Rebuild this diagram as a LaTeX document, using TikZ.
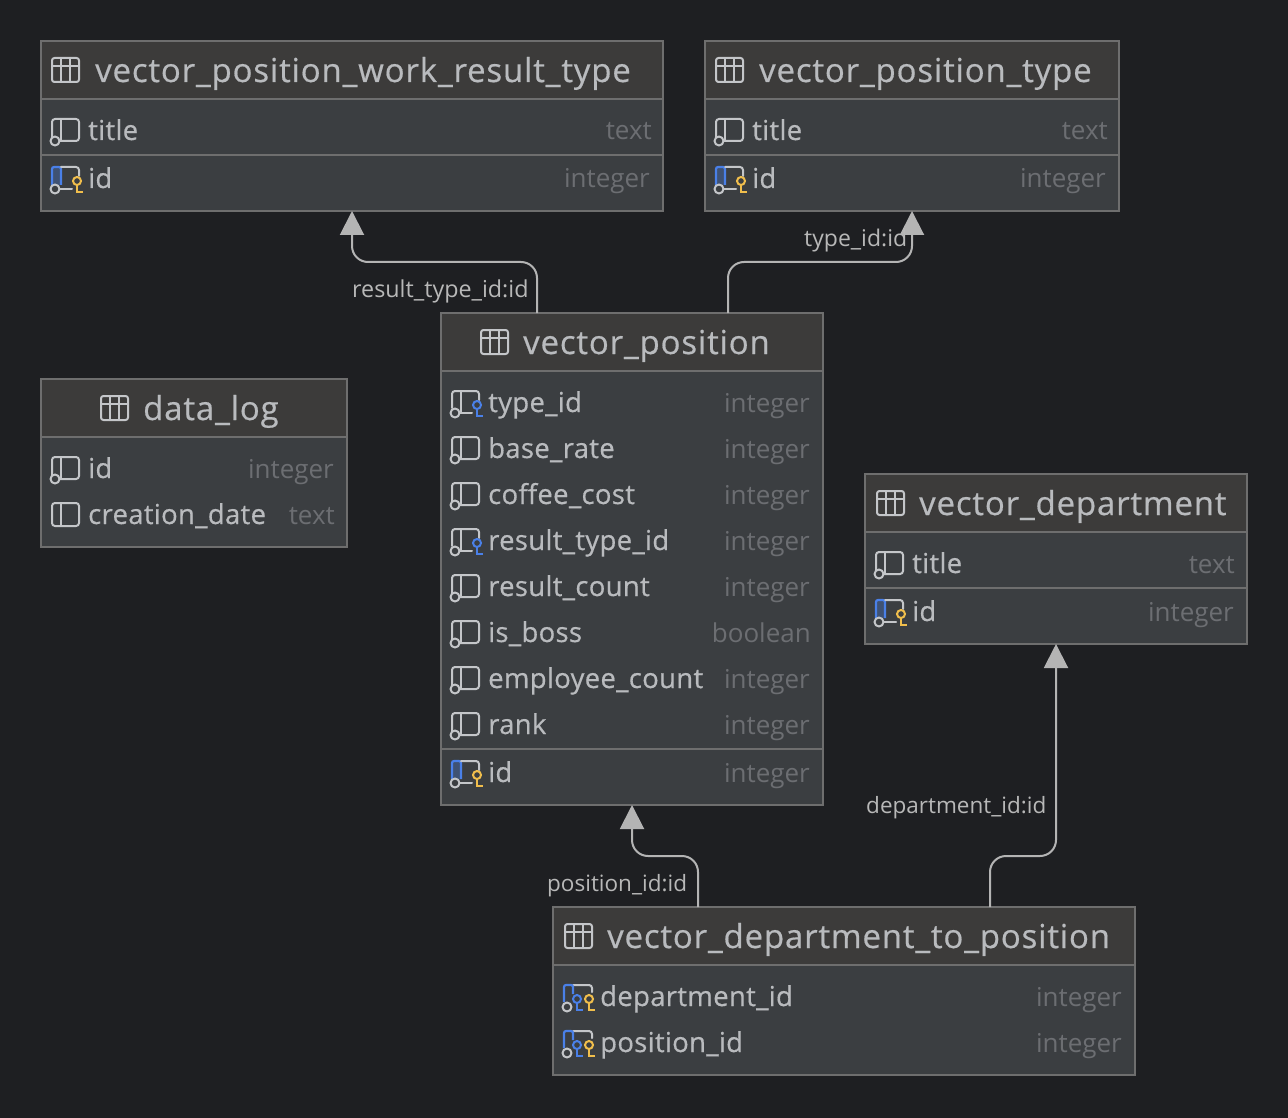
\documentclass[tikz,border=0pt]{standalone}
\usepackage{fontspec}
\setmainfont{Open Sans}
\newfontfamily\titlefont[LetterSpace=2.5,FakeBold=0.5]{Open Sans}
\newfontfamily\rowfont[LetterSpace=1.1,FakeBold=0.5]{Open Sans}
\usetikzlibrary{arrows.meta}
\definecolor{bgc}{HTML}{1E1F22}
\definecolor{headc}{HTML}{3C3B3A}
\definecolor{bodyc}{HTML}{3B3E41}
\definecolor{edgec}{HTML}{6E6E6E}
\definecolor{txtc}{HTML}{B9BBBE}
\definecolor{typec}{HTML}{6C6E72}
\definecolor{iconc}{HTML}{C4C6C9}
\definecolor{linkc}{HTML}{B4B4B4}
\definecolor{bluec}{HTML}{4A80E8}
\definecolor{yelc}{HTML}{F0BE4C}
\tikzset{
 x=1pt,y=-1pt,
 tablebox/.style={draw=edgec,line width=1.5pt,fill=bodyc,anchor=north west,inner sep=0pt,outer sep=0pt},
 headbox/.style={draw=edgec,line width=1.5pt,fill=headc,anchor=north west,inner sep=0pt,outer sep=0pt},
 rule/.style={draw=edgec,line width=2pt},
 titletxt/.style={anchor=base west,inner sep=0pt,text=txtc,font=\titlefont\fontsize{33}{36}\selectfont},
 rowtxt/.style={anchor=base west,inner sep=0pt,text=txtc,font=\rowfont\fontsize{27.5}{30}\selectfont},
 typetxt/.style={anchor=base east,inner sep=0pt,text=typec,font=\fontsize{26}{30}\selectfont},
 linktxt/.style={inner sep=0pt,text=linkc!95!white},
 conn/.style={draw=linkc,line width=2pt,rounded corners=16pt,-{Triangle[width=24pt,length=24pt,fill=linkc]}},
 ic/.style={draw=iconc,line width=2pt,line cap=round,line join=round},
 pics/tableicon/.style={code={
   \draw[ic,rounded corners=2.5pt] (0,0) rectangle (27,24);
   \draw[ic] (0,8) -- (27,8) (9,0) -- (9,24) (18,0) -- (18,24);
 }},
 pics/plainicon/.style={code={
   \draw[ic,rounded corners=3pt] (0,0) rectangle (27,23);
   \draw[ic] (9,0) -- (9,23);
 }},
 pics/colicon/.style={code={
   \draw[ic,rounded corners=3pt] (0,18) -- (0,0) -- (27,0) -- (27,22) -- (8,22);
   \draw[ic] (9,0) -- (9,22);
   \draw[ic] (3,22) circle (4.5);
 }},
 pics/yelkey/.style={code={
   \draw[yelc,line width=2pt] (0,0) circle (4);
   \draw[yelc,line width=2.2pt] (0,4) -- (0,12) (0,11) -- (5.5,11);
 }},
 pics/blukey/.style={code={
   \draw[bluec,line width=2pt] (0,0) circle (4);
   \draw[bluec,line width=2.2pt] (0,4) -- (0,12) (0,11) -- (5.5,11);
 }},
 pics/pkicon/.style={code={
   \fill[bluec!30!bodyc] (0,0) rectangle (9,18);
   \draw[bluec,line width=2.2pt,rounded corners=2pt] (0,18) -- (0,0) -- (9,0) -- (9,18);
   \draw[ic,rounded corners=3pt] (9,0) -- (27,0) -- (27,9);
   \draw[ic] (8,22) -- (20,22);
   \draw[ic] (3,22) circle (4.5);
   \pic at (25,14) {yelkey};
 }},
 pics/fkicon/.style={code={
   \draw[ic,rounded corners=3pt] (0,17) -- (0,0) -- (27,0) -- (27,9);
   \draw[ic] (9,0) -- (9,22) (8,22) -- (20,22);
   \draw[ic] (3,22) circle (4.5);
   \pic at (25,14) {blukey};
 }},
 pics/pfkicon/.style={code={
   \draw[ic,rounded corners=3pt] (9,0) -- (28,0) -- (28,7);
   \draw[bluec,line width=2.2pt,rounded corners=2pt] (0,17) -- (0,0) -- (9,0) -- (9,9);
   \draw[ic] (3,22) circle (4.5);
   \pic at (13,14) {blukey};
   \pic at (25,14) {yelkey};
 }},
}
% name, x0, y0, x1, y1, header bottom y
\newcommand{\dbtable}[6]{%
 \path (#2,#3) coordinate (#1-nw);
 \path (#4,#5) coordinate (#1-se);
 \node[tablebox,minimum width=#4pt-#2pt,minimum height=#5pt-#3pt] (#1) at (#1-nw) {};
 \node[headbox,minimum width=#4pt-#2pt,minimum height=#6pt-#3pt] (#1-head) at (#1-nw) {};
}
% node name, icon, icon x, text x, text baseline y, text, type right x, type text
\newcommand{\colrow}[8]{%
 \pic at (#3,#5-21) {#2};
 \node[rowtxt] (#1-t) at (#4,#5) {#6};
 \node[typetxt] (#1-y) at (#7,#5) {#8};
}
\begin{document}
\begin{tikzpicture}
\fill[bgc] (0,0) rectangle (1288,1118);
\useasboundingbox (0,0) rectangle (1288,1118);

% vector_position_work_result_type
\dbtable{wrt}{41}{41}{663}{211}{99}
\pic at (52,58) {tableicon};
\node[titletxt] (wrt-n) at (95,82) {vector\_position\_work\_result\_type};
\colrow{wrtA}{colicon}{52}{88}{140}{title}{652}{text}
\draw[rule] (wrt.west |- 0,155) -- (wrt.east |- 0,155);
\colrow{wrtB}{pkicon}{52}{88}{188}{id}{650}{integer}

% vector_position_type
\dbtable{vpt}{705}{41}{1119}{211}{99}
\pic at (716,58) {tableicon};
\node[titletxt] (vpt-n) at (759,82) {vector\_position\_type};
\colrow{vptA}{colicon}{716}{752}{140}{title}{1108}{text}
\draw[rule] (vpt.west |- 0,155) -- (vpt.east |- 0,155);
\colrow{vptB}{pkicon}{716}{752}{188}{id}{1106}{integer}

% data_log
\dbtable{dl}{41}{379}{347}{547}{437}
\pic at (101,396) {tableicon};
\node[titletxt] (dl-n) at (143,420) {data\_log};
\colrow{dlA}{colicon}{52}{88}{478}{id}{334}{integer}
\pic at (52,503) {plainicon};
\node[rowtxt] (dlB-t) at (88,524) {creation\_date};
\node[typetxt] (dlB-y) at (335,524) {text};

% vector_position
\dbtable{vp}{441}{313}{823}{805}{371}
\pic at (481,330) {tableicon};
\node[titletxt] (vp-n) at (523,354) {vector\_position};
\colrow{vpA}{fkicon}{452}{488}{412}{type\_id}{810}{integer}
\colrow{vpB}{colicon}{452}{488}{458}{base\_rate}{810}{integer}
\colrow{vpC}{colicon}{452}{488}{504}{coffee\_cost}{810}{integer}
\colrow{vpD}{fkicon}{452}{488}{550}{result\_type\_id}{810}{integer}
\colrow{vpE}{colicon}{452}{488}{596}{result\_count}{810}{integer}
\colrow{vpF}{colicon}{452}{488}{642}{is\_boss}{811}{boolean}
\colrow{vpG}{colicon}{452}{488}{688}{employee\_count}{810}{integer}
\colrow{vpH}{colicon}{452}{488}{734}{rank}{810}{integer}
\draw[rule] (vp.west |- 0,749) -- (vp.east |- 0,749);
\colrow{vpI}{pkicon}{452}{488}{782}{id}{810}{integer}

% vector_department
\dbtable{vd}{865}{474}{1247}{644}{532}
\pic at (877,491) {tableicon};
\node[titletxt] (vd-n) at (919,515) {vector\_department};
\colrow{vdA}{colicon}{876}{912}{573}{title}{1235}{text}
\draw[rule] (vd.west |- 0,588) -- (vd.east |- 0,588);
\colrow{vdB}{pkicon}{876}{912}{621}{id}{1234}{integer}

% vector_department_to_position
\dbtable{dp}{553}{907}{1135}{1075}{965}
\pic at (565,924) {tableicon};
\node[titletxt] (dp-n) at (607,948) {vector\_department\_to\_position};
\colrow{dpA}{pfkicon}{564}{600}{1006}{department\_id}{1122}{integer}
\colrow{dpB}{pfkicon}{564}{600}{1052}{position\_id}{1122}{integer}

% connectors
\draw[conn] (vp.north -| 537,0) -- (537,262) -- (352,262) -- (wrt.south -| 352,0);
\draw[conn] (vp.north -| 728,0) -- (728,262) -- (912,262) -- (vpt.south -| 912,0);
\draw[conn] (dp.north -| 698,0) -- (698,856) -- (632,856) -- (vp.south -| 632,0);
\draw[conn] (dp.north -| 990,0) -- (990,856) -- (1056,856) -- (vd.south -| 1056,0);

\node[linktxt,anchor=base west,font=\fontsize{23.3}{27}\selectfont] (l1) at (352,297) {result\_type\_id:id};
\node[linktxt,anchor=base west,font=\fontsize{23}{27}\selectfont] (l2) at (804,247) {type\_id:id};
\node[linktxt,anchor=base west,font=\fontsize{22.5}{27}\selectfont] (l3) at (547,891) {position\_id:id};
\node[linktxt,anchor=base west,font=\fontsize{22.5}{27}\selectfont] (l4) at (866,813) {department\_id:id};
\end{tikzpicture}
\end{document}
